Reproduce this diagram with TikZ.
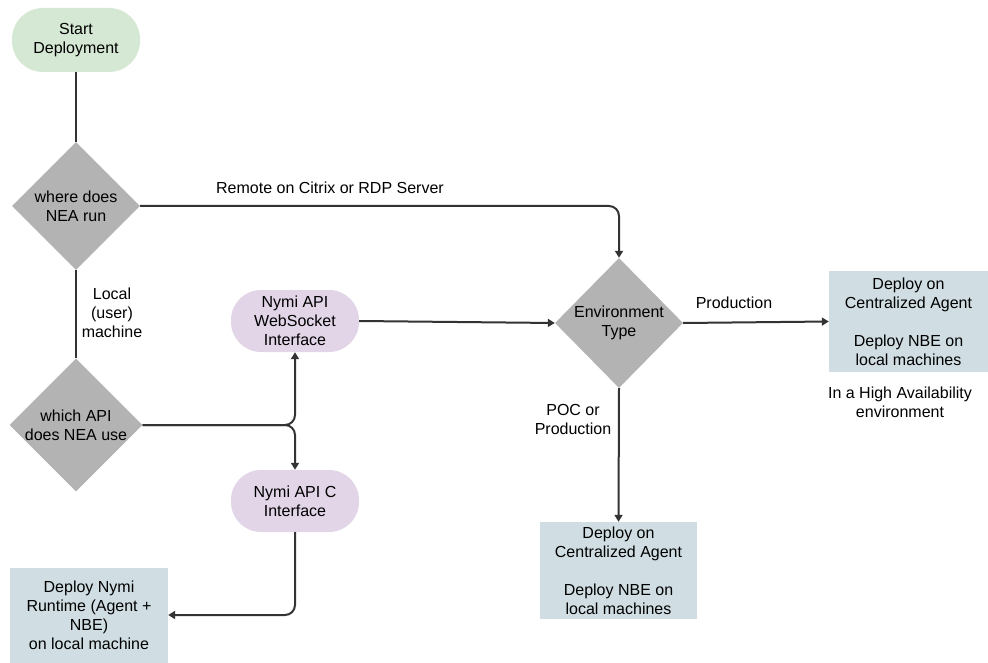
\documentclass[tikz,border=0pt]{standalone}
\usepackage{fontspec}
\setmainfont{Liberation Sans}
\usetikzlibrary{shapes.geometric, arrows.meta}
\definecolor{startgreen}{HTML}{D5E8D4}
\definecolor{ifacepurple}{HTML}{E1D5E7}
\definecolor{decgray}{HTML}{B3B3B3}
\definecolor{deployblue}{HTML}{D0DEE3}
\definecolor{linegray}{HTML}{333333}
\tikzstyle{startstop} = [rectangle, fill=startgreen, rounded corners=31pt, minimum width=128pt, minimum height=64pt, align=center]
\tikzstyle{decision} = [diamond, aspect=1, fill=decgray, minimum width=128pt, minimum height=128pt, inner sep=0pt, align=center]
\tikzstyle{iface} = [rectangle, fill=ifacepurple, rounded corners=30pt, minimum width=128pt, minimum height=62pt, align=center]
\tikzstyle{deploy} = [rectangle, fill=deployblue, minimum width=158pt, minimum height=97pt, align=center]
\tikzstyle{lbl} = [align=center]
\tikzstyle{line} = [draw=linegray, line width=2pt, rounded corners=10pt]
\tikzstyle{arrow} = [line, -{Triangle[length=7pt,width=8pt]}]

\begin{document}
\begin{tikzpicture}[x=1pt, y=-1pt, every node/.style={font=\fontsize{16}{19}\selectfont}]
\useasboundingbox (0,0) rectangle (988,663);

% Nodes
\node (start) [startstop] at (76,40) {Start\\Deployment};
\node (where) [decision] at (76,206) {where does\\NEA run};
\node (which) [decision] at (76,425) {which API\\does NEA use};
\node (wsapi) [iface] at (295,321) {Nymi API\\WebSocket\\Interface};
\node (capi) [iface] at (295,501) {Nymi API C\\Interface};
\node (runtime) [deploy, minimum height=95pt] at (89,615) {Deploy Nymi\\Runtime (Agent +\\NBE)\\on local machine};
\node (envtype) [decision, minimum height=130pt] at (619,323) {Environment\\Type};
\node (haagent) [deploy, minimum width=159pt, minimum height=101pt] at (908.5,321.5) {Deploy on\\Centralized Agent\\[19pt]Deploy NBE on\\local machines};
\node (pocagent) [deploy, minimum width=157pt] at (618.5,570.5) {Deploy on\\Centralized Agent\\[19pt]Deploy NBE on\\local machines};

% Labels
\node (remotelbl) [lbl] at (330,188) {Remote on Citrix or RDP Server};
\node (locallbl) [lbl] at (112,313) {Local\\(user)\\machine};
\node (prodlbl) [lbl] at (734,303) {Production};
\node (poclbl) [lbl] at (573,419) {POC or\\Production};
\node (halbl) [lbl] at (900,402) {In a High Availability\\environment};

% Arrows
\draw [line] (start) -- (where);
\draw [line] (where) -- (which);
\draw [arrow] (where.east) -| (envtype.north);
\draw [arrow] (which.east) -| (wsapi.south);
\draw [arrow] (which.east) -| (capi.north);
\draw [arrow] (capi.south) |- (runtime.east);
\draw [arrow] (wsapi.east) -- (envtype.west);
\draw [arrow] (envtype.east) -- (haagent.west);
\draw [arrow] (envtype.south) -- (pocagent.north);

\end{tikzpicture}
\end{document}
